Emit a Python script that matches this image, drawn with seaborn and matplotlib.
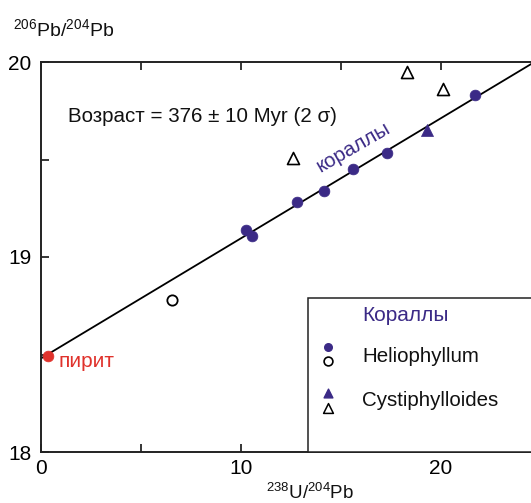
import matplotlib
matplotlib.use("Agg")
import matplotlib.pyplot as plt
import seaborn as sns
import numpy as np
import pandas as pd
from matplotlib.patches import Rectangle

sns.set_style("ticks")
plt.rcParams['font.family'] = ['Liberation Sans', 'DejaVu Sans']
plt.rcParams['mathtext.fontset'] = 'custom'
plt.rcParams['mathtext.rm'] = 'Liberation Sans'
plt.rcParams['mathtext.it'] = 'Liberation Sans'

# ---- data ----
helio_filled_x = [10.23, 10.53, 12.78, 14.17, 15.6, 17.28, 21.7]
helio_filled_y = [19.14, 19.11, 19.28, 19.34, 19.45, 19.535, 19.83]
helio_open_x = [6.53]
helio_open_y = [18.78]
cysti_filled_x = [19.28]
cysti_filled_y = [19.65]
cysti_open_x = [12.6, 18.28, 20.1]
cysti_open_y = [19.51, 19.95, 19.86]
pyrite_x = [0.33]
pyrite_y = [18.49]
iso_intercept = 18.48
iso_slope = 0.0616
iso_x = [0.0, 27.0]
x_ticks = [0, 5, 10, 15, 20, 25]
x_labels = ['0', '', '10', '', '20', '']
y_ticks = [18, 18.5, 19, 19.5, 20]
y_labels = ['18', '', '19', '', '20']

PURPLE = '#3b2a86'
RED = '#e0322c'

fig = plt.figure(figsize=(5.31, 5.03), dpi=100)
ax = fig.add_axes([41/531, 51/503, 500/531, 390/503])

iso_y = [iso_intercept + iso_slope * v for v in iso_x]
sns.lineplot(x=iso_x, y=iso_y, ax=ax, color='black', linewidth=1.3, zorder=2)

sns.scatterplot(x=helio_filled_x, y=helio_filled_y, ax=ax, marker='o', s=60,
                color=PURPLE, edgecolor=PURPLE, linewidth=0.5, zorder=3)
sns.scatterplot(x=helio_open_x, y=helio_open_y, ax=ax, marker='o', s=55,
                facecolor='white', edgecolor='black', linewidth=1.3, zorder=3)
sns.scatterplot(x=cysti_filled_x, y=cysti_filled_y, ax=ax, marker='^', s=75,
                color=PURPLE, edgecolor=PURPLE, linewidth=0.5, zorder=3)
sns.scatterplot(x=cysti_open_x, y=cysti_open_y, ax=ax, marker='^', s=75,
                facecolor='white', edgecolor='black', linewidth=1.2, zorder=3)
sns.scatterplot(x=pyrite_x, y=pyrite_y, ax=ax, marker='o', s=60,
                color=RED, edgecolor=RED, linewidth=0.5, zorder=4, clip_on=False)

ax.set_xlim(0, 25)
ax.set_ylim(18, 20)
ax.set_xticks(x_ticks)
ax.set_xticklabels(x_labels)
ax.set_yticks(y_ticks)
ax.set_yticklabels(y_labels)
ax.tick_params(direction='in', length=6, width=1.1, labelsize=15,
               top=True, right=True, pad=5, colors='black')
ax.tick_params(axis='y', pad=7)
for sp in ax.spines.values():
    sp.set_linewidth(1.4)
    sp.set_color('#222222')
ax.set_xlabel('')
ax.set_ylabel('')

# annotations
ax.text(0.054, 0.859, 'Возраст = 376 ± 10 Myr (2 σ)', transform=ax.transAxes,
        fontsize=14.8, va='center', ha='left', color='#111111')
ax.text(0.624, 0.782, 'кораллы', transform=ax.transAxes, fontsize=14.8,
        rotation=30, color=PURPLE, ha='center', va='center')
ax.text(0.034, 0.231, 'пирит', transform=ax.transAxes, fontsize=15,
        color=RED, ha='left', va='center')

# custom legend box
ax.add_patch(Rectangle((0.534, 0.0), 0.6, 0.395, transform=ax.transAxes,
                       facecolor='white', edgecolor='#222222', linewidth=1.1,
                       zorder=5, clip_on=False))
ax.text(0.642, 0.349, 'Кораллы', transform=ax.transAxes, fontsize=15,
        color=PURPLE, ha='left', va='center', zorder=6)
ax.text(0.642, 0.244, 'Heliophyllum', transform=ax.transAxes, fontsize=14.8,
        color='#111111', ha='left', va='center', zorder=6)
ax.text(0.642, 0.131, 'Cystiphylloides', transform=ax.transAxes, fontsize=14.8,
        color='#111111', ha='left', va='center', zorder=6)
ax.scatter([0.574], [0.269], transform=ax.transAxes, marker='o', s=30,
           color=PURPLE, zorder=6, clip_on=False)
ax.scatter([0.574], [0.233], transform=ax.transAxes, marker='o', s=40,
           facecolor='white', edgecolor='black', linewidth=1.2, zorder=6, clip_on=False)
ax.scatter([0.574], [0.151], transform=ax.transAxes, marker='^', s=40,
           color=PURPLE, zorder=6, clip_on=False)
ax.scatter([0.574], [0.113], transform=ax.transAxes, marker='^', s=50,
           facecolor='white', edgecolor='black', linewidth=1.1, zorder=6, clip_on=False)

# axis titles
fig.text(13/531, 1 - 36/503, r'$^{206}$Pb/$^{204}$Pb', fontsize=14,
         ha='left', va='baseline', color='#111111')
fig.text(310/531, 1 - 499/503, r'$^{238}$U/$^{204}$Pb', fontsize=13.5,
         ha='center', va='baseline', color='#111111')

fig.savefig('out.png', dpi=100)
